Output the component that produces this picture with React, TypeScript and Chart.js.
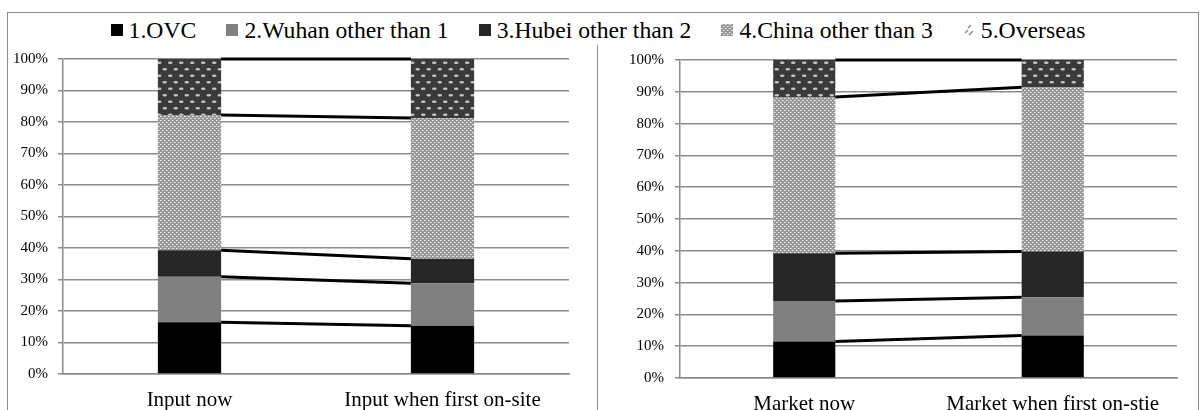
import React, { useEffect, useRef } from 'react';
import { Chart, registerables } from 'chart.js';

Chart.register(...registerables);

const SERIF = '"Liberation Serif", "Times New Roman", serif';

// Series (stack order, bottom to top)
const seriesNames = [
  '1.OVC',
  '2.Wuhan other than 1',
  '3.Hubei other than 2',
  '4.China other than 3',
  '5.Overseas',
];

// Input panel (share of respondents, %)
const inputCategories = ['Input now', 'Input when first on-site'];
const inputOVC = [16.4, 15.3];
const inputWuhan = [14.5, 13.5];
const inputHubei = [8.4, 7.8];
const inputChina = [42.9, 44.7];
const inputOverseas = [17.8, 18.7];

// Market panel (share of respondents, %)
const marketCategories = ['Market now', 'Market when first on-stie'];
const marketOVC = [11.5, 13.4];
const marketWuhan = [12.7, 12.0];
const marketHubei = [15.0, 14.4];
const marketChina = [49.2, 51.6];
const marketOverseas = [11.6, 8.6];

const yTicks = [0, 10, 20, 30, 40, 50, 60, 70, 80, 90, 100];

const GRID = '#8c8c8c';

function chinaTile(): HTMLCanvasElement {
  const c = document.createElement('canvas');
  c.width = 4;
  c.height = 4;
  const g = c.getContext('2d')!;
  g.fillStyle = '#989898';
  g.fillRect(0, 0, 4, 4);
  g.fillStyle = '#f4f4f4';
  g.fillRect(0, 0, 1, 1);
  g.fillRect(2, 2, 1, 1);
  g.fillStyle = '#c8c8c8';
  g.fillRect(1, 0, 1, 1);
  g.fillRect(3, 2, 1, 1);
  return c;
}

function overseasTile(): HTMLCanvasElement {
  const c = document.createElement('canvas');
  c.width = 11;
  c.height = 13;
  const g = c.getContext('2d')!;
  g.fillStyle = '#3a3a3a';
  g.fillRect(0, 0, 11, 13);
  g.fillStyle = '#c4c4c4';
  const dots = [
    [2.75, 3.25],
    [8.25, 9.75],
  ];
  for (const [x, y] of dots) {
    g.beginPath();
    g.ellipse(x, y, 2.3, 1.2, 0, 0, Math.PI * 2);
    g.fill();
  }
  return c;
}

// Black connector lines between the tops of matching segments
const seriesLines = {
  id: 'seriesLines',
  afterDatasetsDraw(chart: any) {
    const ctx = chart.ctx;
    ctx.save();
    ctx.strokeStyle = '#000';
    ctx.lineWidth = 3;
    chart.data.datasets.forEach((_: any, d: number) => {
      const meta = chart.getDatasetMeta(d);
      const a = meta.data[0];
      const b = meta.data[1];
      if (!a || !b) return;
      ctx.beginPath();
      ctx.moveTo(a.x + a.width / 2, a.y);
      ctx.lineTo(b.x - b.width / 2, b.y);
      ctx.stroke();
    });
    ctx.restore();
  },
};

type PanelProps = {
  categories: string[];
  values: number[][];
  yAxisWidth: number;
  xAxisHeight: number;
  padTop: number;
  padRight: number;
  tickPad: number;
  width: number;
  height: number;
  left: number;
  top: number;
};

function Panel(props: PanelProps) {
  const ref = useRef<HTMLCanvasElement>(null);
  useEffect(() => {
    const canvas = ref.current!;
    const ctx = canvas.getContext('2d')!;
    const fills: (string | CanvasPattern)[] = [
      '#000000',
      '#808080',
      '#262626',
      ctx.createPattern(chinaTile(), 'repeat')!,
      ctx.createPattern(overseasTile(), 'repeat')!,
    ];
    const chart = new Chart(canvas, {
      type: 'bar',
      data: {
        labels: props.categories,
        datasets: props.values.map((v, i) => ({
          label: seriesNames[i],
          data: v,
          backgroundColor: fills[i] as any,
          borderWidth: 0,
          barPercentage: 0.25,
          categoryPercentage: 1,
        })),
      },
      options: {
        animation: false,
        responsive: false,
        maintainAspectRatio: false,
        layout: { padding: { top: props.padTop, right: props.padRight, left: 0, bottom: 0 } },
        plugins: { legend: { display: false }, tooltip: { enabled: false } },
        scales: {
          x: {
            stacked: true,
            grid: { display: false, drawTicks: false },
            border: { display: true, color: GRID, width: 1.5 },
            ticks: {
              color: '#000',
              padding: 14,
              maxRotation: 0,
              autoSkip: false,
              font: { family: SERIF, size: 21 },
            },
            afterFit: (s: any) => {
              s.height = props.xAxisHeight;
              s.paddingLeft = 0;
              s.paddingRight = 0;
            },
          },
          y: {
            stacked: true,
            min: 0,
            max: 100,
            afterBuildTicks: (s: any) => {
              s.ticks = yTicks.map((v) => ({ value: v }));
            },
            grid: { color: GRID, lineWidth: 1.5, tickLength: 5, drawTicks: true },
            border: { display: true, color: GRID, width: 1.5 },
            ticks: {
              color: '#000',
              padding: props.tickPad,
              font: { family: SERIF, size: 15 },
              callback: (v: any) => `${v}%`,
            },
            afterFit: (s: any) => {
              s.width = props.yAxisWidth;
            },
          },
        },
      },
      plugins: [seriesLines],
    });
    return () => chart.destroy();
  }, []);
  return (
    <canvas
      ref={ref}
      width={props.width}
      height={props.height}
      style={{ position: 'absolute', left: props.left, top: props.top, width: props.width, height: props.height }}
    />
  );
}

function Swatch({ index }: { index: number }) {
  const ref = useRef<HTMLCanvasElement>(null);
  useEffect(() => {
    const g = ref.current!.getContext('2d')!;
    if (index === 0) g.fillStyle = '#000000';
    else if (index === 1) g.fillStyle = '#808080';
    else if (index === 2) g.fillStyle = '#262626';
    else if (index === 3) g.fillStyle = g.createPattern(chinaTile(), 'repeat')!;
    if (index === 4) {
      g.fillStyle = '#ffffff';
      g.fillRect(0, 0, 12, 12);
      g.strokeStyle = '#8a8a8a';
      g.lineWidth = 1.5;
      g.beginPath();
      g.moveTo(2, 9);
      g.lineTo(5, 6);
      g.moveTo(6, 11);
      g.lineTo(10, 7);
      g.moveTo(5, 4);
      g.lineTo(8, 1);
      g.stroke();
    } else {
      g.fillRect(0, 0, 12, 12);
    }
  }, [index]);
  return (
    <canvas
      ref={ref}
      width={12}
      height={12}
      style={{ width: 12, height: 12, display: 'inline-block', verticalAlign: 2, marginRight: 6 }}
    />
  );
}

export default function App() {
  return (
    <div
      style={{
        position: 'absolute',
        left: 0,
        top: 0,
        width: 1202,
        height: 410,
        overflow: 'hidden',
        background: '#fff',
      }}
    >
      <div
        style={{
          position: 'absolute',
          left: 7,
          top: 12,
          width: 1190,
          height: 420,
          border: `1px solid ${GRID}`,
        }}
      />
      <div style={{ position: 'absolute', left: 597, top: 45, width: 1, height: 400, background: GRID }} />
      <div
        style={{
          position: 'absolute',
          left: -3,
          top: 17,
          width: 1202,
          display: 'flex',
          justifyContent: 'center',
          fontFamily: SERIF,
          fontSize: 23.7,
          lineHeight: '26px',
          color: '#000',
          whiteSpace: 'nowrap',
        }}
      >
        {seriesNames.map((name, i) => (
          <span key={name} style={{ marginLeft: i === 0 ? 0 : 30 }}>
            <Swatch index={i} />
            {name}
          </span>
        ))}
      </div>
      <Panel
        categories={inputCategories}
        values={[inputOVC, inputWuhan, inputHubei, inputChina, inputOverseas]}
        yAxisWidth={55}
        xAxisHeight={36}
        padTop={16}
        padRight={27}
        tickPad={10}
        width={588}
        height={370}
        left={8}
        top={40}
      />
      <Panel
        categories={marketCategories}
        values={[marketOVC, marketWuhan, marketHubei, marketChina, marketOverseas]}
        yAxisWidth={82}
        xAxisHeight={32}
        padTop={17}
        padRight={25}
        tickPad={11}
        width={604}
        height={370}
        left={598}
        top={40}
      />
    </div>
  );
}
